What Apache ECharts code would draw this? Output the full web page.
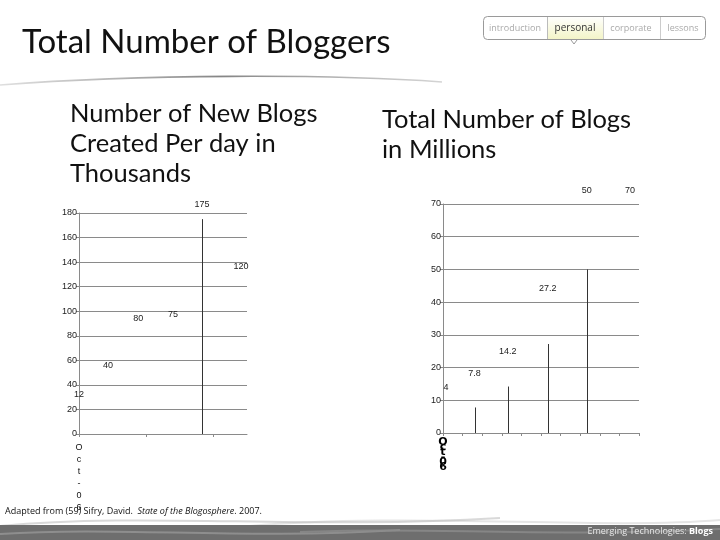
<!DOCTYPE html>
<html>
<head>
<meta charset="utf-8">
<script src="https://cdn.jsdelivr.net/npm/echarts@6/dist/echarts.min.js"></script>
<style>html,body{margin:0;padding:0;background:#fff;}#c{width:720px;height:540px;}</style>
</head>
<body>
<div id="c"></div>
<script>
// ---- data ----
const newBlogsX = [0, 0.43, 0.88, 1.40, 1.83, 2.41];      // position along the (unlabelled) time axis
const newBlogsPerDay = [12, 40, 80, 75, 175, 120];        // thousands per day
const totalBlogsX = [0.15, 1.61, 3.30, 5.34, 7.33, 9.54];
const totalBlogs = [4, 7.8, 14.2, 27.2, 50, 70];          // millions
const leftAxisLabel = 'Oct-06';
const rightAxisLabel = 'Oct-06';
const mainTitle = 'Total Number of Bloggers';
const leftTitle = 'Number of New Blogs\nCreated Per day in\nThousands';
const rightTitle = 'Total Number of Blogs\nin Millions';
const navTabs = ['introduction', 'personal', 'corporate', 'lessons'];

// ---- presentation only ----
const leftLabelLift = [25, 19, 17, 27, 15, 20];
const rightLabelLift = [32, 34, 35, 56, 79, 13];
const leftDropVisible = [false, false, false, false, true, false];
const rightDropVisible = [false, true, true, true, true, false];

const GRID = '#8a8a8a';
const AX_FONT = 'Liberation Sans';

function pairs(xs, ys) { return xs.map((x, i) => [x, ys[i]]); }

function dropRenderer(visible) {
  return function (params, api) {
    if (!visible[params.dataIndex]) return null;
    const x = api.value(0), y = api.value(1);
    const p0 = api.coord([x, 0]), p1 = api.coord([x, y]);
    const px = Math.round(p0[0]) + 0.5;
    return { type: 'line', shape: { x1: px, y1: p0[1], x2: px, y2: p1[1] },
      style: { stroke: '#333', lineWidth: 1 } };
  };
}
function labelRenderer(lift) {
  return function (params, api) {
    const x = api.value(0), y = api.value(1);
    const p = api.coord([x, y]);
    return { type: 'text', x: p[0], y: p[1] - lift[params.dataIndex],
      style: { text: String(y), fill: '#222', font: '9px ' + AX_FONT, align: 'center', verticalAlign: 'middle' } };
  };
}
function stacked(s) { return s.split('').join('\n'); }

const yAxisCommon = {
  type: 'value', axisLine: { show: true, lineStyle: { color: GRID } },
  axisTick: { show: true, length: 3, lineStyle: { color: GRID } },
  axisLabel: { fontSize: 9, color: '#222', fontFamily: AX_FONT, margin: 2 },
  splitLine: { show: true, lineStyle: { color: GRID, width: 1 } }
};

const chart = echarts.init(document.getElementById('c'));
const option = {
  animation: false,
  backgroundColor: '#fff',
  grid: [
    { left: 79, top: 213, width: 168, height: 221 },
    { left: 443, top: 204, width: 196, height: 229 }
  ],
  xAxis: [
    { gridIndex: 0, type: 'value', min: 0, max: 2.5, interval: 1,
      axisLine: { show: true, onZero: false, lineStyle: { color: GRID } },
      axisTick: { show: true, length: 3, lineStyle: { color: GRID } },
      splitLine: { show: false },
      axisLabel: { show: true, interval: 0, showMaxLabel: false, margin: 8, fontSize: 9, color: '#111', fontFamily: AX_FONT,
        lineHeight: 12, align: 'center',
        formatter: v => v === 0 ? stacked(leftAxisLabel) : '' } },
    { gridIndex: 1, type: 'value', min: 0, max: 10, interval: 1,
      axisLine: { show: true, onZero: false, lineStyle: { color: GRID } },
      axisTick: { show: true, length: 3, lineStyle: { color: GRID } },
      splitLine: { show: false },
      axisLabel: { show: true, margin: 7, fontSize: 11, fontWeight: 'bold', color: '#000', fontFamily: 'DejaVu Sans',
        lineHeight: 5, align: 'center',
        formatter: v => v === 0 ? stacked(rightAxisLabel) : '' } }
  ],
  yAxis: [
    Object.assign({ gridIndex: 0, min: 0, max: 180, interval: 20 }, yAxisCommon),
    Object.assign({ gridIndex: 1, min: 0, max: 70, interval: 10 }, yAxisCommon)
  ],
  series: [
    { type: 'custom', xAxisIndex: 0, yAxisIndex: 0, data: pairs(newBlogsX, newBlogsPerDay), renderItem: dropRenderer(leftDropVisible), clip: false },
    { type: 'custom', xAxisIndex: 0, yAxisIndex: 0, data: pairs(newBlogsX, newBlogsPerDay), renderItem: labelRenderer(leftLabelLift), clip: false, z: 5 },
    { type: 'custom', xAxisIndex: 1, yAxisIndex: 1, data: pairs(totalBlogsX, totalBlogs), renderItem: dropRenderer(rightDropVisible), clip: false },
    { type: 'custom', xAxisIndex: 1, yAxisIndex: 1, data: pairs(totalBlogsX, totalBlogs), renderItem: labelRenderer(rightLabelLift), clip: false, z: 5 }
  ],
  graphic: [
    // title
    { type: 'text', left: 22, top: 26, style: { text: mainTitle, font: '33px Lato', fill: '#111' } },
    // swoosh under the title
    { type: 'bezierCurve', shape: { x1: 0, y1: 85, cpx1: 140, cpy1: 74, cpx2: 330, cpy2: 74, x2: 442, y2: 82 },
      style: { stroke: new echarts.graphic.LinearGradient(0, 0, 1, 0, [
        { offset: 0, color: 'rgba(150,150,150,0.3)' }, { offset: 0.5, color: 'rgba(120,120,120,0.9)' }, { offset: 1, color: 'rgba(150,150,150,0.4)' }]),
        lineWidth: 1.6, fill: null } },
    // chart titles
    { type: 'text', left: 70, top: 99, style: { text: leftTitle, font: '25.5px Lato', lineHeight: 30, fill: '#111' } },
    { type: 'text', left: 382, top: 105, style: { text: rightTitle, font: '25.5px Lato', lineHeight: 30, fill: '#111' } },
    // nav tabs
    { type: 'rect', shape: { x: 547, y: 16, width: 56, height: 23 },
      style: { fill: new echarts.graphic.LinearGradient(0, 0, 0, 1, [{ offset: 0, color: '#ffffff' }, { offset: 1, color: '#f3f4c8' }]) } },
    { type: 'rect', shape: { x: 483.5, y: 16.5, width: 222, height: 23, r: 4 }, style: { fill: null, stroke: '#9a9a9a', lineWidth: 1 } },
    { type: 'line', shape: { x1: 547.5, y1: 17, x2: 547.5, y2: 39 }, style: { stroke: '#bbb' } },
    { type: 'line', shape: { x1: 603.5, y1: 17, x2: 603.5, y2: 39 }, style: { stroke: '#ccc' } },
    { type: 'line', shape: { x1: 660.5, y1: 17, x2: 660.5, y2: 39 }, style: { stroke: '#ccc' } },
    { type: 'polyline', shape: { points: [[571, 40], [574, 44], [577, 40]] }, style: { stroke: '#999', fill: '#fff' } },
    { type: 'text', x: 515, y: 28, style: { text: navTabs[0], font: '9px "Open Sans"', fill: '#aaa', align: 'center', verticalAlign: 'middle' } },
    { type: 'text', x: 575, y: 28, style: { text: navTabs[1], font: '10px "Open Sans"', fill: '#333', align: 'center', verticalAlign: 'middle' } },
    { type: 'text', x: 631, y: 28, style: { text: navTabs[2], font: '9px "Open Sans"', fill: '#aaa', align: 'center', verticalAlign: 'middle' } },
    { type: 'text', x: 683, y: 28, style: { text: navTabs[3], font: '9px "Open Sans"', fill: '#aaa', align: 'center', verticalAlign: 'middle' } },
    // citation
    { type: 'text', left: 5, top: 507, z: 10,
      style: { text: 'Adapted from (59) Sifry, David.  {i|State of the Blogosphere}. 2007.',
        font: '9px "Open Sans"', fill: '#111',
        rich: { i: { fontStyle: 'italic', fontSize: 9, fontFamily: 'Open Sans', fill: '#111' } } } },
    // footer
    { type: 'bezierCurve', shape: { x1: 0, y1: 526, cpx1: 150, cpy1: 512, cpx2: 300, cpy2: 530, x2: 500, y2: 518 },
      style: { stroke: 'rgba(180,180,180,0.5)', lineWidth: 2, fill: null } },
    { type: 'bezierCurve', shape: { x1: 250, y1: 526, cpx1: 400, cpy1: 512, cpx2: 600, cpy2: 530, x2: 720, y2: 520 },
      style: { stroke: 'rgba(190,190,190,0.4)', lineWidth: 2, fill: null } },
    { type: 'rect', shape: { x: 0, y: 525, width: 720, height: 15 }, style: { fill: '#6e6e6e' } },
    { type: 'bezierCurve', shape: { x1: 0, y1: 534, cpx1: 120, cpy1: 526, cpx2: 240, cpy2: 540, x2: 400, y2: 530 },
      style: { stroke: 'rgba(150,150,150,0.8)', lineWidth: 2, fill: null } },
    { type: 'bezierCurve', shape: { x1: 300, y1: 532, cpx1: 420, cpy1: 526, cpx2: 540, cpy2: 538, x2: 720, y2: 529 },
      style: { stroke: 'rgba(140,140,140,0.8)', lineWidth: 2, fill: null } },
    { type: 'text', right: 7, top: 527, z: 10,
      style: { text: 'Emerging Technologies: {b|Blogs}', font: '9px "Open Sans"', fill: '#e8e8e8',
        rich: { b: { fontWeight: 'bold', fontSize: 9, fontFamily: 'Open Sans', fill: '#fff' } } } }
  ]
};
chart.setOption(option);
</script>
</body>
</html>
